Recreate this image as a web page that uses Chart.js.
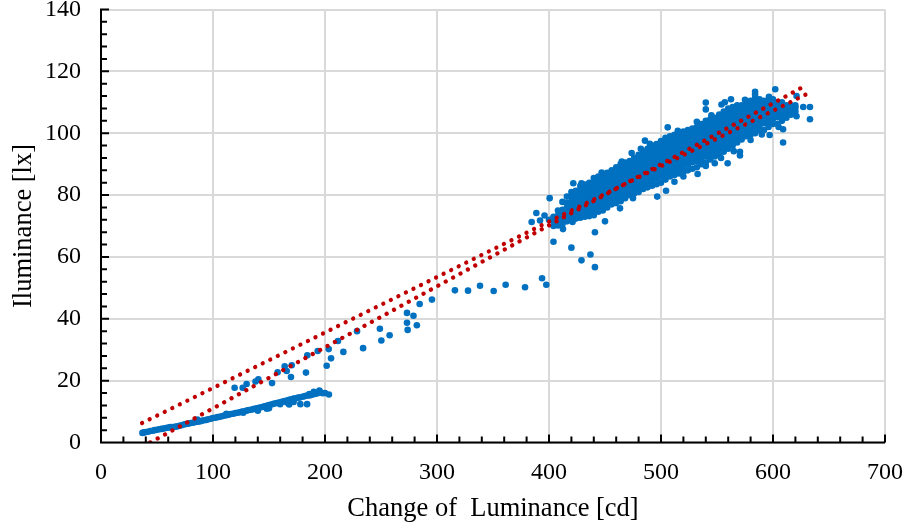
<!DOCTYPE html>
<html>
<head>
<meta charset="utf-8">
<style>
  html, body { margin: 0; padding: 0; background: #fff; }
  canvas { display: block; }
</style>
<script src="https://cdn.jsdelivr.net/npm/chart.js@4/dist/chart.umd.min.js"></script>
</head>
<body>
<canvas id="chart" width="908" height="529"></canvas>
<script>
// axis ticks
const xMajor = [0, 100, 200, 300, 400, 500, 600, 700];
const yMajor = [0, 20, 40, 60, 80, 100, 120, 140];
const xMinorStep = 20;
const yMinorStep = 4;

// the two dotted trendlines, end points
const trendAX = [36.7, 632];
const trendAY = [6.3, 113];
const trendBX = [44, 627];
const trendBY = [0, 115];

// low luminance band
const lowX = [37, 38, 39, 40, 42, 44, 46, 48, 50, 52, 54, 56, 58, 60, 62, 64, 66, 68, 70, 72, 74, 76, 78, 80,
  82, 84, 86, 88, 90, 92, 94, 96, 98, 100, 102, 104, 106, 108, 110, 112, 114, 116, 118, 120, 122, 124, 126, 128,
  130, 132, 134, 136, 138, 140, 142, 144, 146, 148, 150, 152, 154, 156, 158, 160, 162, 164, 166, 168, 170, 172,
  174, 176, 178, 180, 182, 184, 186, 188, 190, 192, 194, 196, 198, 200, 203.5,
  86, 112, 127, 140, 148, 150, 160, 166, 168, 172, 178, 184, 186, 190, 195];
const lowY = [3.1, 3.2, 3.3, 3.4, 3.5, 3.7, 3.8, 4, 4.1, 4.3, 4.4, 4.5, 4.7, 4.8, 5, 5, 5.1, 5.2, 5.4, 5.6, 5.8, 6, 6.1, 6.3,
  6.4, 6.6, 6.7, 6.8, 7, 7.2, 7.3, 7.5, 7.7, 7.9, 8, 8.2, 8.3, 8.5, 8.7, 8.8, 9, 9.2, 9.3, 9.5, 9.6, 9.8, 10, 10.1,
  10.3, 10.5, 10.6, 10.8, 11, 11.1, 11.3, 11.5, 11.7, 11.9, 12.1, 12.3, 12.5, 12.7, 12.8, 13, 13.2, 13.4, 13.6, 13.8, 14, 14.2,
  14.3, 14.5, 14.6, 14.8, 15, 15.2, 15.2, 15.4, 15.6, 15.8, 16, 16.2, 15.9, 16, 15.5,
  7.4, 9.3, 9.6, 10.3, 10.9, 11.1, 12.4, 12.9, 12.3, 13.1, 12.4, 12.4, 15.7, 16.4, 16.8];

// scattered points between the two groups, then the rough edges of the dense group
const sparseX = [119.3, 126.5, 130, 138, 140.5, 152.7, 157.7, 164, 165.8, 170.3, 169.6, 183, 184.2, 193.5, 203.3,
  201.5, 205.4, 211.6, 216.4, 228.6, 234, 249, 250.3, 257.7, 273.2, 279, 273.2, 282, 273.8, 284.5, 295.5, 316,
  327.7, 338.4, 350.6, 361.3, 378.6, 393.8, 397.6, 441, 429, 437, 420, 404, 441, 450, 412.5, 421, 400.6,
  384.5, 388.7, 392, 396, 400,
  421.7, 429, 436, 447, 465, 473.8, 482, 485.7, 490, 506, 515, 527, 532, 540, 540, 545, 554, 557, 562.5, 575, 584, 584, 584, 596.4, 602,
  633, 633, 627, 621, 621, 609, 609,
  463.4, 475, 496.6, 504.5, 512, 520, 532.7, 540, 548, 553.6, 559.5, 565, 570.5, 570.5, 580, 590, 597, 605];
const sparseY = [17.7, 17.7, 18.9, 19.7, 20.4, 19.2, 22.7, 24.6, 23.1, 25, 21.2, 22.6, 28.2, 29.6, 30.2,
  24.8, 27.2, 32.8, 29.3, 36, 30.5, 36.8, 33, 34.7, 41.9, 41, 38.7, 37.9, 36.4, 44.8, 46.2, 49.2,
  49.1, 50.7, 49, 51, 50.2, 53.1, 51, 56.7, 58.9, 60.8, 63, 64.9, 68, 71.5, 69, 71.3, 79,
  71.3, 74.2, 71.8, 73.4, 72,
  83.8, 83.8, 83.8, 87.3, 90.8, 93.6, 95, 97.6, 96.6, 101.9, 100.8, 100.7, 103.7, 109.9, 107.7, 105.8, 109.3, 110, 111, 110.8, 113.4, 112.5, 111.5, 111.8, 114.2,
  108.5, 104.5, 108.5, 105.5, 112, 101.3, 97,
  75.7, 79, 79.5, 81.4, 84.3, 86, 86.8, 89.4, 90.3, 92, 90.3, 94.2, 94, 92.8, 97.8, 99.6, 99.4, 102];

// dense group, one row of y readings for each x
const cloudX = [404, 408, 412, 416, 420, 424, 428, 432, 436, 440, 444, 448, 452, 456, 460, 464, 468, 472, 476, 480,
  484, 488, 492, 496, 500, 504, 508, 512, 516, 520, 524, 528, 532, 536, 540, 544, 548, 552, 556, 560,
  564, 568, 572, 576, 580, 584, 588, 592, 596, 600, 604, 608, 612, 616, 620];
const cloudY = [
  [70, 71.5, 73],
  [70.2, 71.8, 73.4, 75],
  [70.6, 72, 73.6, 75.2, 77.8],
  [71.5, 73, 74.5, 76, 77.5, 79.5],
  [72, 73.6, 75, 76.6, 78, 79.6, 81],
  [72.4, 73.9, 75.4, 76.9, 78.4, 79.9, 81.4],
  [72.7, 74.3, 75.8, 77.3, 78.8, 80.3, 81.8, 83],
  [73, 74.6, 76.1, 77.6, 79.1, 80.6, 82.1, 83.4],
  [73.2, 74.9, 76.4, 77.9, 79.4, 80.9, 82.4, 84],
  [73.5, 75.2, 76.7, 78.2, 79.7, 81.2, 82.7, 84.2, 85.5],
  [74.6, 75.9, 77.4, 78.9, 80.4, 81.9, 83.4, 84.9, 86],
  [75, 76.6, 78.1, 79.6, 81.1, 82.6, 84.1, 85.4, 86.5],
  [76, 77.3, 78.8, 80.3, 81.8, 83.3, 84.8, 86.2, 87.2],
  [77, 78.5, 80, 81.5, 83, 84.5, 86, 87, 88],
  [77.4, 79, 80.5, 82, 83.5, 85, 86.5, 87.8, 89],
  [78, 79.7, 81.2, 82.7, 84.2, 85.7, 87.2, 88.7, 90],
  [79, 80.4, 81.9, 83.4, 84.9, 86.4, 87.9, 89.2, 90.5],
  [80, 81.4, 82.9, 84.4, 85.9, 87.4, 88.9, 90.4, 91],
  [80.5, 82.1, 83.6, 85.1, 86.6, 88.1, 89.6, 91, 92],
  [81, 82.7, 84.2, 85.7, 87.2, 88.7, 90.2, 91.7, 93],
  [82, 83.5, 85, 86.5, 88, 89.5, 91, 92.5, 94],
  [82.5, 84.2, 85.7, 87.2, 88.7, 90.2, 91.7, 93.2, 94.6, 95],
  [83, 84.8, 86.3, 87.8, 89.3, 90.8, 92.3, 93.8, 95.3, 96],
  [83.5, 85.4, 86.9, 88.4, 89.9, 91.4, 92.9, 94.4, 95.6, 96.5],
  [84, 85.9, 87.4, 88.9, 90.4, 91.9, 93.4, 94.9, 96.4, 97.5],
  [85, 86.7, 88.2, 89.7, 91.2, 92.7, 94.2, 95.7, 97.2, 98.5],
  [86, 87.4, 88.9, 90.4, 91.9, 93.4, 94.9, 96.4, 97.9, 99],
  [86.5, 88.2, 89.7, 91.2, 92.7, 94.2, 95.7, 97.2, 98.4, 99.5],
  [87, 88.7, 90.2, 91.7, 93.2, 94.7, 96.2, 97.7, 99.2, 100],
  [87.5, 89.4, 90.9, 92.4, 93.9, 95.4, 96.9, 98.4, 99.6, 100.5],
  [88, 89.9, 91.4, 92.9, 94.4, 95.9, 97.4, 98.9, 100.4, 101],
  [88.5, 90.6, 92.1, 93.6, 95.1, 96.6, 98.1, 99.6, 100.8, 101.5],
  [89, 91, 92.5, 94, 95.5, 97, 98.5, 100, 101.5, 102],
  [90, 91.8, 93.3, 94.8, 96.3, 97.8, 99.3, 100.8, 102.3, 103],
  [90.5, 92.5, 94, 95.5, 97, 98.5, 100, 101.5, 103, 104],
  [91.5, 93.2, 94.7, 96.2, 97.7, 99.2, 100.7, 102.2, 103.7, 104.5],
  [92.5, 94, 95.5, 97, 98.5, 100, 101.5, 103, 104.5, 105],
  [93, 94.7, 96.2, 97.7, 99.2, 100.7, 102.2, 103.7, 105.2, 106],
  [94, 95.6, 97.1, 98.6, 100.1, 101.6, 103.1, 104.6, 106.1, 107],
  [95, 96.3, 97.8, 99.3, 100.8, 102.3, 103.8, 105.3, 106.8, 108],
  [96, 97.5, 99, 100.5, 102, 103.5, 105, 106.5, 108, 108.5],
  [97, 98.3, 99.8, 101.3, 102.8, 104.3, 105.8, 107.3, 108.6, 109],
  [98, 99.5, 101, 102.5, 104, 105.5, 107, 108.2, 109],
  [99, 100.3, 101.8, 103.3, 104.8, 106.3, 107.8, 109.3, 110],
  [99.5, 101, 102.5, 104, 105.5, 107, 108.5, 110, 110.5],
  [100, 101.8, 103.3, 104.8, 106.3, 107.8, 109.3, 110.4, 111],
  [101, 102.5, 104, 105.5, 107, 108.5, 110, 111],
  [101, 103.2, 104.7, 106.2, 107.7, 109.2, 110.5],
  [102, 103.9, 105.4, 106.9, 108.4, 109.6, 110.5],
  [103, 104.6, 106.1, 107.6, 109.1, 110.3, 111],
  [103, 105.2, 106.7, 108.2, 109.4, 110],
  [104, 105.8, 107.3, 108.8, 110],
  [105, 106.4, 107.9, 109],
  [106, 107.6, 109],
  [107, 108.2, 109]
];

// build point lists for the library
const lowPoints = lowX.map((x, i) => ({ x, y: lowY[i] }));
const sparsePoints = sparseX.map((x, i) => ({ x, y: sparseY[i] }));
const cloudPoints = cloudX.flatMap((x, i) => cloudY[i].map(y => ({ x, y })));
const trendA = trendAX.map((x, i) => ({ x, y: trendAY[i] }));
const trendB = trendBX.map((x, i) => ({ x, y: trendBY[i] }));

const AXIS_FONT = 'Liberation Serif, "Times New Roman", serif';

function stepValues(max, step) {
  const out = [];
  for (let v = 0; v <= max; v += step) out.push(v);
  return out;
}

function noLabelPadding(s) {
  s.paddingTop = 0;
  s.paddingBottom = 0;
  s.paddingLeft = 0;
  s.paddingRight = 0;
}

// axis lines and the inward tick marks
const inwardTicks = {
  id: 'inwardTicks',
  afterDatasetsDraw(chart) {
    const { ctx, chartArea: a, scales: { x, y } } = chart;
    ctx.save();
    ctx.strokeStyle = '#000';
    ctx.lineWidth = 2;
    ctx.beginPath();
    ctx.moveTo(a.left, a.top - 1);
    ctx.lineTo(a.left, a.bottom);
    ctx.lineTo(a.right, a.bottom);
    stepValues(700, xMinorStep).forEach(v => {
      const px = x.getPixelForValue(v);
      ctx.moveTo(px, a.bottom);
      ctx.lineTo(px, a.bottom - (xMajor.includes(v) ? 8 : 6));
    });
    stepValues(140, yMinorStep).forEach(v => {
      const py = y.getPixelForValue(v);
      ctx.moveTo(a.left, py);
      ctx.lineTo(a.left + (yMajor.includes(v) ? 8 : 6), py);
    });
    ctx.stroke();
    ctx.restore();
  }
};

new Chart(document.getElementById('chart'), {
  type: 'scatter',
  plugins: [inwardTicks],
  data: {
    datasets: [
      { data: trendA, showLine: true, pointRadius: 0, borderColor: '#c00000', borderWidth: 4.3, borderDash: [0.01, 8.4], borderCapStyle: 'round' },
      { data: trendB, showLine: true, pointRadius: 0, borderColor: '#c00000', borderWidth: 4.3, borderDash: [0.01, 8.4], borderCapStyle: 'round' },
      { data: lowPoints, pointRadius: 3.3, pointBorderWidth: 0, pointBackgroundColor: '#0070c0' },
      { data: sparsePoints, pointRadius: 3.3, pointBorderWidth: 0, pointBackgroundColor: '#0070c0' },
      { data: cloudPoints, pointRadius: 3.3, pointBorderWidth: 0, pointBackgroundColor: '#0070c0' }
    ]
  },
  options: {
    responsive: false,
    animation: false,
    layout: { padding: { top: 9.5, right: 23, left: 0, bottom: 0 } },
    plugins: { legend: { display: false }, tooltip: { enabled: false } },
    scales: {
      x: {
        type: 'linear', min: 0, max: 700,
        afterFit(s) { s.height = 86.5; noLabelPadding(s); },
        afterBuildTicks(s) { s.ticks = xMajor.map(value => ({ value })); },
        grid: { color: '#d9d9d9', lineWidth: 2, drawTicks: false },
        border: { display: false },
        ticks: { color: '#000', padding: 16, maxRotation: 0, font: { family: AXIS_FONT, size: 24 } },
        title: { display: true, text: 'Change of  Luminance [cd]', color: '#000', padding: { top: 4, bottom: 4 }, font: { family: AXIS_FONT, size: 26.5 } }
      },
      y: {
        type: 'linear', min: 0, max: 140,
        afterFit(s) { s.width = 101; noLabelPadding(s); },
        afterBuildTicks(s) { s.ticks = yMajor.map(value => ({ value })); },
        grid: { color: '#d9d9d9', lineWidth: 2, drawTicks: false },
        border: { display: false },
        ticks: { color: '#000', padding: 20, font: { family: AXIS_FONT, size: 24 } },
        title: { display: true, text: 'Iluminance [lx]', color: '#000', padding: { top: 8, bottom: 0 }, font: { family: AXIS_FONT, size: 26.5 } }
      }
    }
  }
});
</script>
</body>
</html>
